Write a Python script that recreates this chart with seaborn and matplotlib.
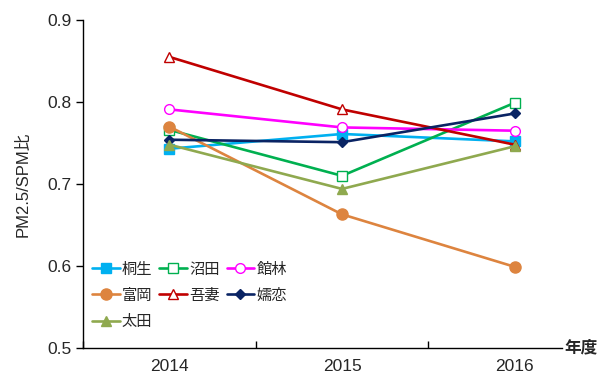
import matplotlib
matplotlib.use("Agg")
import matplotlib.pyplot as plt
import seaborn as sns
import pandas as pd

# data
years = ['2014', '2015', '2016']
kiryu = [0.743, 0.761, 0.752]
numata = [0.766, 0.710, 0.799]
tatebayashi = [0.791, 0.769, 0.765]
tomioka = [0.770, 0.663, 0.599]
agatsuma = [0.855, 0.791, 0.748]
tsumagoi = [0.754, 0.751, 0.786]
ota = [0.748, 0.694, 0.746]

names = ['桐生', '沼田', '館林', '富岡', '吾妻', '嬬恋', '太田']
values = [kiryu, numata, tatebayashi, tomioka, agatsuma, tsumagoi, ota]

colors = ['#00B0F0', '#00B050', '#FF00FF', '#DD843F', '#C00000', '#0A2464', '#8FA94F']
markers = ['s', 's', 'o', 'o', '^', 'D', '^']
filled = [True, False, False, True, False, True, True]
msizes = [7, 7, 7, 8, 7, 5.5, 7]

sns.set_style('white')
plt.rcParams['font.family'] = ['Liberation Sans', 'Noto Sans CJK JP', 'DejaVu Sans']

fig = plt.figure(figsize=(6.04, 3.76), dpi=100)
ax = fig.add_axes([83 / 604, 28 / 376, 518 / 604, 328 / 376])

handles = {}
for name, vals, c, m, f, ms in zip(names, values, colors, markers, filled, msizes):
    df = pd.DataFrame({'year': years, 'ratio': vals})
    sns.lineplot(data=df, x='year', y='ratio', ax=ax, color=c, lw=1.9,
                 marker=m, markersize=ms, markeredgecolor=c,
                 markerfacecolor=c if f else 'white', markeredgewidth=1.0,
                 label=name)
    handles[name] = ax.get_lines()[-1]

ax.set_xlim(-0.5, 2.5)
ax.set_ylim(0.5, 0.9)
ax.set_yticks([0.5, 0.6, 0.7, 0.8, 0.9])
ax.set_yticklabels(['0.5', '0.6', '0.7', '0.8', '0.9'])
ax.set_xticks([0, 1, 2])
ax.set_xticklabels(years)
ax.set_xticks([-0.5, 0.5, 1.5], minor=True)

for s in ['top', 'right']:
    ax.spines[s].set_visible(False)
for s in ['left', 'bottom']:
    ax.spines[s].set_color('black')
    ax.spines[s].set_linewidth(1.0)
ax.spines['bottom'].set_bounds(-0.5, 2.277)

ax.tick_params(axis='y', which='major', direction='out', length=5, width=1,
               color='black', labelsize=12.5, pad=3, left=True)
ax.tick_params(axis='x', which='major', length=0, labelsize=12.5, pad=8)
ax.tick_params(axis='x', which='minor', direction='in', length=5, width=1,
               color='black', bottom=True)

ax.set_xlabel('')
ax.set_ylabel('PM2.5/SPM比', fontsize=12, labelpad=12)
ax.text(2.29, 0.5, '年度', fontsize=12, fontweight='bold', va='center',
        ha='left', transform=ax.transData, clip_on=False)

order = ['桐生', '富岡', '太田', '沼田', '吾妻', '館林', '嬬恋']
ax.legend([handles[n] for n in order], order, ncol=3, loc='lower left',
          bbox_to_anchor=(0.0, 0.03), frameon=False, fontsize=11,
          handlelength=1.8, handletextpad=0.15, columnspacing=0.45,
          labelspacing=0.8, borderaxespad=0.2)

fig.savefig('out.png', dpi=100)
